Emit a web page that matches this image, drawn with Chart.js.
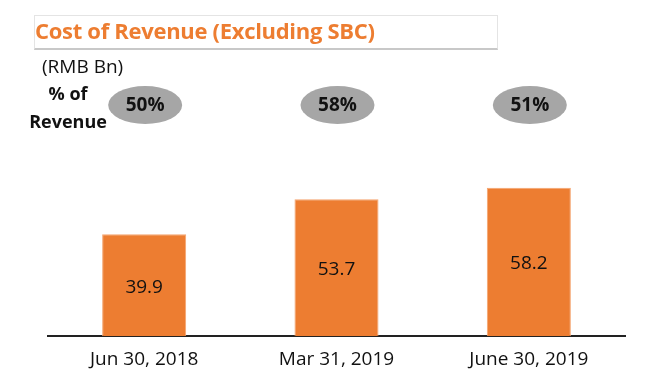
<!DOCTYPE html>
<html>
<head>
<meta charset="utf-8">
<script src="https://cdn.jsdelivr.net/npm/chart.js@4"></script>
<style>
  html, body { margin: 0; padding: 0; background: #fff; }
  #wrap { position: relative; width: 649px; height: 384px; font-family: "Open Sans", sans-serif; }
  #chart { position: absolute; left: 0; top: 0; }
  .titleBox {
    position: absolute; left: 34px; top: 15px; width: 464px; height: 35px;
    border: 1px solid #e4e4e4; border-bottom: 2px solid #c8c8c8; box-sizing: border-box;
  }
  .title {
    position: absolute; left: 35px; top: 15px; color: #ed7d31;
    font-weight: bold; font-size: 22px; letter-spacing: -0.3px; white-space: nowrap;
  }
  .unit { position: absolute; left: 42px; top: 53px; font-size: 19px; color: #111; }
  .pctLbl { position: absolute; left: 24px; top: 79px; font-size: 18px; font-weight: bold; color: #111; line-height: 28px; text-align: center; width: 88px; }
</style>
</head>
<body>
<div id="wrap">
  <canvas id="chart" width="649" height="384"></canvas>
  <div class="titleBox"></div>
  <div class="title">Cost of Revenue (Excluding SBC)</div>
  <div class="unit">(RMB Bn)</div>
  <div class="pctLbl">% of<br>Revenue</div>
</div>
<script>
// Chart data
const periods = ["Jun 30, 2018", "Mar 31, 2019", "June 30, 2019"];
const costValues = [39.9, 53.7, 58.2];
const pctOfRevenue = ["50%", "58%", "51%"];

const ORANGE = "#ed7d31";

// draws the value inside each bar and the grey % bubbles above
const overlayPlugin = {
    id: "overlay",
    afterDatasetsDraw(chart) {
        const ctx = chart.ctx;
        const meta = chart.getDatasetMeta(0);
        ctx.save();
        ctx.textAlign = "center";
        ctx.textBaseline = "middle";
        meta.data.forEach((bar, i) => {
            // value label, middle of the bar
            ctx.fillStyle = "#111";
            ctx.font = "19px 'Open Sans', sans-serif";
            ctx.fillText(costValues[i].toFixed(1), bar.x, (bar.y + bar.base) / 2 + 2);

            // % of revenue bubble
            const cy = 105;
            ctx.beginPath();
            ctx.ellipse(bar.x + 1, cy, 37, 19, 0, 0, Math.PI * 2);
            ctx.fillStyle = "#a6a6a6";
            ctx.fill();
            ctx.fillStyle = "#111";
            ctx.font = "bold 19px 'Open Sans', sans-serif";
            ctx.fillText(pctOfRevenue[i], bar.x + 1, cy + 1);
        });
        ctx.restore();
    }
};

new Chart(document.getElementById("chart"), {
    type: "bar",
    data: {
        labels: periods,
        datasets: [{
            data: costValues,
            backgroundColor: ORANGE,
            borderColor: "#f4a46e",
            borderWidth: 1,
            categoryPercentage: 1,
            barPercentage: 0.437
        }]
    },
    options: {
        responsive: false,
        animation: false,
        layout: { padding: { left: 48, right: 24, top: 132, bottom: 1 } },
        plugins: {
            legend: { display: false },
            tooltip: { enabled: false }
        },
        scales: {
            y: { display: false, min: 0, max: 80 },
            x: {
                grid: { display: false, drawTicks: false },
                border: { color: "#222", width: 2 },
                ticks: {
                    color: "#111",
                    padding: 12,
                    font: { family: "'Open Sans', sans-serif", size: 19 }
                }
            }
        }
    },
    plugins: [overlayPlugin]
});
</script>
</body>
</html>
